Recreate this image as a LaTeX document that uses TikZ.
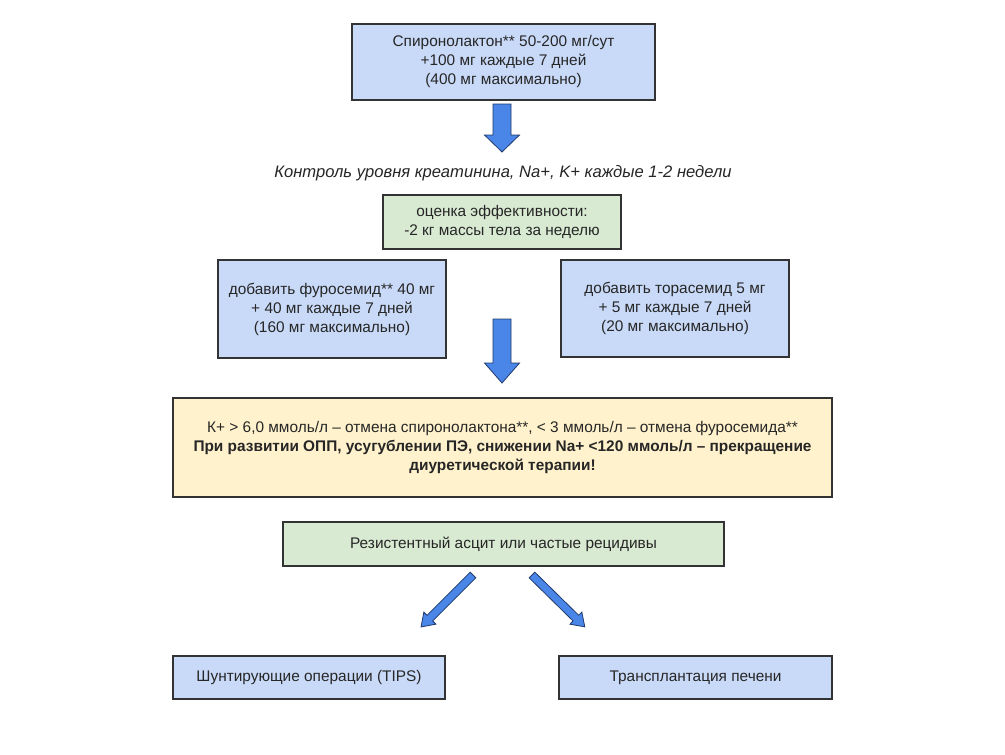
\documentclass[tikz,border=0pt]{standalone}
\usepackage{fontspec}
\setmainfont{Liberation Sans}
\definecolor{bluebox}{HTML}{C9DAF8}
\definecolor{greenbox}{HTML}{D9EAD3}
\definecolor{yellowbox}{HTML}{FFF2CC}
\definecolor{arrowfill}{HTML}{4A86E8}
\definecolor{arrowline}{HTML}{1F3A6B}
\definecolor{boxline}{HTML}{333333}
\tikzset{
  box/.style={draw=boxline, line width=1.3pt, align=center, inner sep=0pt,
    font=\fontsize{15.4}{19}\selectfont, text=black!85},
  bbox/.style={box, fill=bluebox},
  gbox/.style={box, fill=greenbox},
  ybox/.style={box, fill=yellowbox},
  barrow/.style={fill=arrowfill, draw=arrowline, line width=0.8pt, line join=miter}
}
\begin{document}
\begin{tikzpicture}[x=1pt,y=-1pt]
\useasboundingbox (0,0) rectangle (1005,755);
\fill[white] (0,0) rectangle (1005,755);

\node[bbox, minimum width=303pt, minimum height=76pt] (top) at (503.5,62)
  {Спиронолактон** 50-200 мг/сут\\+100 мг каждые 7 дней\\(400 мг максимально)};

\node[font=\fontsize{16.6}{19}\selectfont\itshape, text=black!85, inner sep=0pt] (ctrl) at (503,173)
  {Контроль уровня креатинина, Na+, K+ каждые 1-2 недели};

\node[gbox, minimum width=238pt, minimum height=54pt] (eff) at (502,222)
  {оценка эффективности:\\-2 кг массы тела за неделю};

\node[bbox, minimum width=228pt, minimum height=98pt] (furo) at (332,309)
  {добавить фуросемид** 40 мг\\+ 40 мг каждые 7 дней\\(160 мг максимально)};

\node[bbox, minimum width=228pt, minimum height=97pt] (tora) at (675,308.5)
  {добавить торасемид 5 мг\\+ 5 мг каждые 7 дней\\(20 мг максимально)};

\node[ybox, minimum width=659pt, minimum height=99pt] (warn) at (502.5,447.5)
  {К+ > 6,0 ммоль/л – отмена спиронолактона**, < 3 ммоль/л – отмена фуросемида**\\
   \bfseries При развитии ОПП, усугублении ПЭ, снижении Na+ <120 ммоль/л – прекращение\\
   \bfseries диуретической терапии!};

\node[gbox, minimum width=441pt, minimum height=44pt] (res) at (503.5,544)
  {Резистентный асцит или частые рецидивы};

\node[bbox, minimum width=272pt, minimum height=43pt] (tips) at (309,677.5)
  {Шунтирующие операции (TIPS)};

\node[bbox, minimum width=273pt, minimum height=43pt] (trans) at (695.5,677.5)
  {Трансплантация печени};

% block arrows
\coordinate (a1) at (502,104);
\coordinate (a2) at (502,319);
\coordinate (a3) at (473,575);
\coordinate (a4) at (532,575);

\begin{scope}[shift={(a1)}, rotate=-90]
  \draw[barrow] (0,-9) -- (31,-9) -- (31,-17.5) -- (48,0) -- (31,17.5) -- (31,9) -- (0,9) -- cycle;
\end{scope}
\begin{scope}[shift={(a2)}, rotate=-90]
  \draw[barrow] (0,-9) -- (44,-9) -- (44,-17.5) -- (64,0) -- (44,17.5) -- (44,9) -- (0,9) -- cycle;
\end{scope}
\begin{scope}[shift={(a3)}, rotate=225]
  \draw[barrow] (0,-4) -- (61,-4) -- (61,-8.5) -- (73.5,0) -- (61,8.5) -- (61,4) -- (0,4) -- cycle;
\end{scope}
\begin{scope}[shift={(a4)}, rotate=-44.5]
  \draw[barrow] (0,-4) -- (61.5,-4) -- (61.5,-8.5) -- (74,0) -- (61.5,8.5) -- (61.5,4) -- (0,4) -- cycle;
\end{scope}
\end{tikzpicture}
\end{document}
